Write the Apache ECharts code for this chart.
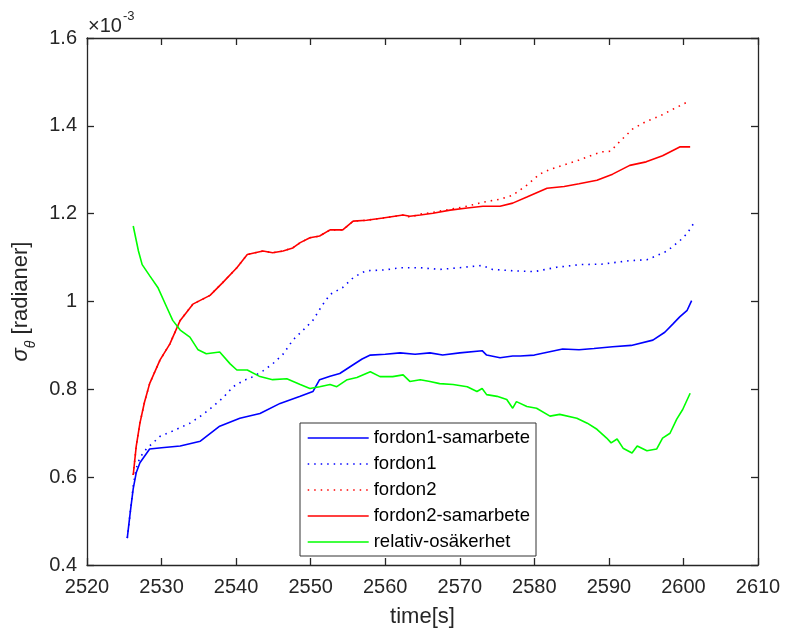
<!DOCTYPE html>
<html>
<head>
<meta charset="utf-8">
<script src="https://cdn.jsdelivr.net/npm/echarts@6/dist/echarts.min.js"></script>
<style>
html,body{margin:0;padding:0;background:#fff;}
#chart{width:787px;height:633px;}
</style>
</head>
<body>
<div id="chart"></div>
<script>
// ---- data (values in units of 1e-3 rad) ----
const seriesNames = ['fordon1-samarbete','fordon1','fordon2','fordon2-samarbete','relativ-osäkerhet'];
const xTicks = [2520,2530,2540,2550,2560,2570,2580,2590,2600,2610];
const yTicks = [0.4,0.6,0.8,1.0,1.2,1.4,1.6];

const f1sT = [2525.4,2525.8,2526.2,2526.6,2527.1,2528.4,2530.0,2532.5,2535.2,2537.8,2540.5,2543.2,2545.9,2548.6,2550.3,2551.2,2552.6,2553.9,2555.7,2556.9,2558.0,2560.0,2562.0,2564.0,2566.0,2567.7,2570.0,2573.0,2573.6,2575.4,2577.1,2578.1,2580.0,2583.8,2586.0,2588.0,2590.5,2593.0,2595.9,2597.5,2598.6,2599.5,2600.5,2601.1];
const f1sV = [0.461,0.520,0.574,0.610,0.633,0.664,0.667,0.671,0.682,0.716,0.734,0.745,0.768,0.784,0.795,0.822,0.830,0.836,0.856,0.869,0.878,0.880,0.883,0.880,0.883,0.878,0.883,0.888,0.878,0.872,0.876,0.876,0.878,0.892,0.890,0.893,0.897,0.900,0.912,0.930,0.949,0.965,0.980,1.002];

const f1T = [2525.4,2525.8,2526.2,2526.6,2527.1,2528.0,2529.8,2531.5,2533.8,2535.5,2536.9,2538.2,2539.6,2541.0,2542.3,2543.6,2544.9,2546.3,2547.6,2549.0,2550.3,2551.5,2552.6,2554.3,2555.7,2556.9,2557.5,2560.0,2562.0,2564.7,2567.3,2570.0,2573.0,2574.4,2577.1,2580.0,2583.0,2586.1,2589.0,2592.8,2595.1,2596.5,2597.8,2599.5,2600.5,2601.3];
const f1V = [0.461,0.520,0.580,0.620,0.645,0.665,0.693,0.705,0.723,0.742,0.761,0.780,0.806,0.820,0.829,0.842,0.858,0.880,0.912,0.935,0.957,0.990,1.016,1.032,1.054,1.066,1.070,1.072,1.077,1.077,1.073,1.077,1.082,1.073,1.070,1.068,1.078,1.084,1.085,1.093,1.095,1.105,1.115,1.138,1.155,1.176];

const f2T = [2526.2,2526.6,2527.1,2527.7,2528.4,2529.8,2531.1,2532.5,2534.2,2536.5,2538.2,2540.1,2541.5,2543.6,2544.9,2546.3,2547.6,2548.6,2549.9,2551.2,2552.6,2554.3,2555.7,2557.5,2559.7,2562.4,2563.3,2564.7,2566.4,2568.7,2571.0,2573.1,2575.4,2577.1,2579.0,2580.7,2582.0,2583.8,2586.0,2588.0,2589.2,2590.2,2591.5,2593.2,2595.0,2596.8,2598.5,2600.5];
const f2V = [0.605,0.670,0.723,0.770,0.813,0.867,0.903,0.957,0.994,1.014,1.043,1.077,1.107,1.115,1.111,1.115,1.122,1.134,1.145,1.149,1.163,1.163,1.183,1.185,1.190,1.197,1.192,1.199,1.203,1.210,1.217,1.226,1.233,1.242,1.265,1.290,1.300,1.310,1.322,1.335,1.341,1.342,1.365,1.393,1.410,1.422,1.437,1.454];

const f2sT = [2526.2,2526.6,2527.1,2527.7,2528.4,2529.8,2531.1,2532.5,2534.2,2536.5,2538.2,2540.1,2541.5,2543.6,2544.9,2546.3,2547.6,2548.6,2549.9,2551.2,2552.6,2554.3,2555.7,2557.5,2559.7,2562.4,2563.3,2564.7,2566.4,2568.7,2571.0,2573.1,2575.4,2577.1,2579.0,2581.7,2584.0,2586.0,2588.4,2590.5,2592.8,2595.0,2597.2,2599.5,2600.9];
const f2sV = [0.605,0.670,0.723,0.770,0.813,0.867,0.903,0.957,0.994,1.014,1.043,1.077,1.107,1.115,1.111,1.115,1.122,1.134,1.145,1.149,1.163,1.163,1.183,1.185,1.190,1.197,1.194,1.197,1.201,1.208,1.213,1.217,1.217,1.224,1.238,1.258,1.262,1.268,1.276,1.290,1.310,1.318,1.332,1.352,1.352];

const relT = [2526.2,2526.9,2527.4,2528.4,2529.5,2530.7,2531.5,2532.5,2533.8,2534.9,2536.0,2537.8,2539.2,2540.1,2541.5,2543.2,2544.9,2546.8,2548.6,2549.9,2551.2,2552.6,2553.5,2554.9,2556.2,2558.0,2559.3,2561.0,2562.4,2563.3,2564.7,2566.0,2567.3,2569.1,2571.0,2572.3,2573.0,2573.6,2575.0,2576.3,2577.1,2577.6,2579.0,2580.3,2582.1,2583.4,2585.7,2587.1,2588.4,2589.7,2590.3,2591.1,2591.9,2593.1,2593.8,2595.1,2596.4,2597.2,2598.2,2599.1,2599.9,2600.9];
const relV = [1.172,1.115,1.084,1.059,1.032,0.987,0.957,0.935,0.919,0.890,0.881,0.885,0.858,0.844,0.844,0.829,0.822,0.824,0.811,0.802,0.806,0.811,0.806,0.822,0.827,0.840,0.829,0.829,0.833,0.818,0.822,0.818,0.813,0.811,0.806,0.795,0.802,0.788,0.784,0.777,0.757,0.772,0.761,0.757,0.739,0.743,0.734,0.723,0.709,0.689,0.678,0.687,0.666,0.655,0.671,0.660,0.664,0.689,0.700,0.732,0.754,0.791];

const colors = ['#0000ff','#0000ff','#ff0000','#ff0000','#00ff00'];
const lineTypes = ['solid',[1.5,5],[1.5,5],'solid','solid'];
const seriesT = [f1sT,f1T,f2T,f2sT,relT];
const seriesV = [f1sV,f1V,f2V,f2sV,relV];

const FONT = '"Liberation Sans", Arial, Helvetica, sans-serif';
const AX = '#262626';

const chart = echarts.init(document.getElementById('chart'), null, {renderer:'canvas'});

const series = seriesNames.map((n,i)=>({
  name:n, type:'line', showSymbol:false, symbol:'none', animation:false,
  data: seriesT[i].map((t,k)=>[t, seriesV[i][k]]),
  lineStyle:{color:colors[i], width:1.6, type:lineTypes[i]},
  itemStyle:{color:colors[i]},
  z: 2+i
}));

const fmtY = v => String(parseFloat(v.toFixed(1)));
const fmtX = v => String(Math.round(v));

chart.setOption({
  animation:false,
  backgroundColor:'#fff',
  grid:{left:87, right:29, top:38, bottom:63, containLabel:false},
  xAxis:[{
    type:'value', min:xTicks[0], max:xTicks[xTicks.length-1], interval:10,
    axisLine:{show:true, onZero:false, lineStyle:{color:AX, width:1.3}},
    axisTick:{inside:true, length:7, lineStyle:{color:AX, width:1.3}},
    axisLabel:{fontFamily:FONT, fontSize:20, color:AX, margin:12, formatter:fmtX},
    splitLine:{show:false},
    name:'time[s]', nameLocation:'middle', nameGap:41,
    nameTextStyle:{fontFamily:FONT, fontSize:22, color:AX}
  },{
    type:'value', position:'top', min:xTicks[0], max:xTicks[xTicks.length-1], interval:10,
    axisLine:{show:true, onZero:false, lineStyle:{color:AX, width:1.3}},
    axisTick:{inside:true, length:7, lineStyle:{color:AX, width:1.3}},
    axisLabel:{show:false}, splitLine:{show:false}
  }],
  yAxis:[{
    type:'value', min:yTicks[0], max:yTicks[yTicks.length-1], interval:0.2,
    axisLine:{show:true, onZero:false, lineStyle:{color:AX, width:1.3}},
    axisTick:{inside:true, length:7, lineStyle:{color:AX, width:1.3}},
    axisLabel:{fontFamily:FONT, fontSize:20, color:AX, margin:10, formatter:fmtY},
    splitLine:{show:false},
    name:'{s|σ}{t|θ}{r| [radianer]}', nameLocation:'middle', nameRotate:90, nameGap:46,
    nameTextStyle:{
      fontFamily:FONT, color:AX,
      rich:{
        s:{fontFamily:FONT, fontSize:22, fontStyle:'italic', color:AX, lineHeight:34},
        t:{fontFamily:FONT, fontSize:14, fontStyle:'italic', color:AX, lineHeight:12, verticalAlign:'bottom'},
        r:{fontFamily:FONT, fontSize:22, color:AX, lineHeight:34}
      }
    }
  },{
    type:'value', position:'right', min:yTicks[0], max:yTicks[yTicks.length-1], interval:0.2,
    axisLine:{show:true, onZero:false, lineStyle:{color:AX, width:1.3}},
    axisTick:{inside:true, length:7, lineStyle:{color:AX, width:1.3}},
    axisLabel:{show:false}, splitLine:{show:false}
  }],
  legend:{
    data:seriesNames, orient:'vertical', left:300, top:423,
    backgroundColor:'#fff', borderColor:'#333', borderWidth:1,
    padding:[5,6,4,7], itemGap:6, itemWidth:61, itemHeight:14,
    itemStyle:{opacity:0},
    lineStyle:{width:1.4},
    textStyle:{fontFamily:FONT, fontSize:18.5, color:'#000', lineHeight:20},
    selectedMode:false
  },
  graphic:[
    {type:'text', left:88, top:16, silent:true,
     style:{text:'×10', fontFamily:FONT, fontSize:20, fill:AX}},
    {type:'text', left:123, top:10, silent:true,
     style:{text:'-3', fontFamily:FONT, fontSize:13, fill:AX}}
  ],
  series: series
});
</script>
</body>
</html>
